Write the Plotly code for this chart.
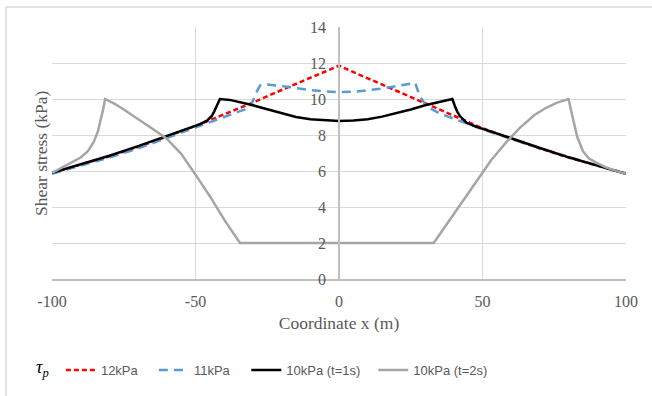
import plotly.graph_objects as go

# Shear stress along the coordinate x for each peak stress case
x_12 = [-100, -90, -80, -70, -60, -50, -40, -30, -20, -10, 0,
        10, 20, 30, 40, 50, 60, 70, 80, 90, 100]
tau_12 = [5.90, 6.35, 6.82, 7.33, 7.90, 8.50, 9.15, 9.80, 10.50, 11.17, 11.85,
          11.15, 10.45, 9.75, 9.05, 8.38, 7.80, 7.25, 6.75, 6.30, 5.85]

x_11 = [-100, -90, -80, -70, -60, -50, -40, -35, -32, -30.5, -29, -27.5, -25,
        -20, -15, -10, -5, 0, 5, 10, 15, 20, 24, 26.5, 28.2, 30.5, 35, 40,
        50, 60, 70, 80, 90, 100]
tau_11 = [5.85, 6.28, 6.75, 7.25, 7.82, 8.40, 9.00, 9.30, 9.45, 9.70, 10.30, 10.75, 10.80,
          10.72, 10.60, 10.50, 10.42, 10.38, 10.40, 10.47, 10.58, 10.72, 10.85, 10.90, 10.15, 9.60, 9.20, 8.90,
          8.32, 7.78, 7.26, 6.78, 6.32, 5.85]

x_10a = [-100, -90, -80, -70, -60, -50, -48.4, -46, -44.4, -43.5, -42.6, -41.5,
         -38, -35, -30, -25, -20, -15, -10, -5, 0, 5, 10, 15, 20, 25, 30, 35,
         39.5, 40.4, 41.2, 42.2, 44.5, 48, 50, 60, 70, 80, 90, 100]
tau_10a = [5.90, 6.38, 6.85, 7.38, 7.95, 8.52, 8.60, 8.80, 9.04, 9.30, 9.59, 10.00,
           9.95, 9.85, 9.65, 9.43, 9.20, 9.00, 8.88, 8.81, 8.78, 8.80, 8.88, 9.02, 9.20, 9.42, 9.65, 9.85,
           10.00, 9.60, 9.30, 9.04, 8.67, 8.45, 8.35, 7.82, 7.28, 6.76, 6.30, 5.85]

x_10b = [-100, -97, -94, -90, -87.5, -85.5, -84, -83, -82.2, -81.5,
         -78, -75, -70, -65, -60, -55, -50, -45, -40, -34.5,
         33, 38, 43, 48, 53, 58, 63, 68, 72, 76, 80,
         80.8, 81.7, 83, 85, 87, 89.8, 93, 97, 100]
tau_10b = [5.90, 6.15, 6.40, 6.75, 7.10, 7.60, 8.20, 8.80, 9.40, 10.00,
           9.72, 9.42, 8.90, 8.35, 7.80, 6.95, 5.80, 4.60, 3.30, 2.00,
           2.00, 3.15, 4.35, 5.45, 6.60, 7.55, 8.40, 9.10, 9.50, 9.80, 10.00,
           9.40, 8.85, 7.90, 7.10, 6.70, 6.45, 6.20, 5.98, 5.85]

x_ticks = [-100, -50, 0, 50, 100]
y_ticks = [0, 2, 4, 6, 8, 10, 12, 14]

# (name, x, y, colour, dash, legend id, legend x in paper units)
series = [
    ("12kPa", x_12, tau_12, "#ff0000", "5px,3px", "legend", 0.0155),
    ("11kPa", x_11, tau_11, "#5b9bd5", "9px,6px", "legend2", 0.1775),
    ("10kPa (t=1s)", x_10a, tau_10a, "#000000", "solid", "legend3", 0.3385),
    ("10kPa (t=2s)", x_10b, tau_10b, "#a5a5a5", "solid", "legend4", 0.5597),
]

serif = "Liberation Serif"
grid = "#d9d9d9"
axis_line = "#bfbfbf"
text_col = "#595959"

fig = go.Figure()
legends = {}
for name, xs, ys, color, dash, leg, lx in series:
    fig.add_trace(go.Scatter(
        x=xs, y=ys, name=name, mode="lines", legend=leg,
        line=dict(color=color, width=2.5, dash=dash),
    ))
    legends[leg] = dict(
        orientation="h", x=lx, xanchor="left", y=-0.356, yanchor="middle",
        font=dict(family="Liberation Sans", size=13, color=text_col),
        itemwidth=30, bgcolor="rgba(0,0,0,0)",
    )

fig.update_layout(
    width=652, height=396,
    margin=dict(l=52, r=26, t=27, b=116),
    paper_bgcolor="white", plot_bgcolor="white",
    showlegend=True,
    xaxis=dict(
        range=[-100, 100], tickvals=x_ticks, ticktext=[str(v) for v in x_ticks],
        showgrid=True, gridcolor=grid, gridwidth=1,
        showline=True, linecolor=axis_line, linewidth=1.5,
        zeroline=False, ticks="", ticklabelstandoff=7,
        tickfont=dict(family=serif, size=16, color=text_col),
        title=dict(text="Coordinate x (m)", standoff=8,
                   font=dict(family=serif, size=17.5, color=text_col)),
    ),
    yaxis=dict(
        range=[0, 14], tickvals=y_ticks, ticktext=[str(v) for v in y_ticks],
        anchor="free", position=0.5,
        showgrid=True, gridcolor=grid, gridwidth=1,
        showline=True, linecolor=axis_line, linewidth=1.5,
        zeroline=False, ticks="", ticklabelstandoff=9,
        tickfont=dict(family=serif, size=16, color=text_col),
    ),
    annotations=[
        dict(text="Shear stress (kPa)", xref="paper", yref="paper",
             x=-0.019, y=0.5, xanchor="center", yanchor="middle", textangle=-90,
             showarrow=False, font=dict(family=serif, size=17.5, color=text_col)),
        dict(text="<i>τ<sub>p</sub></i>", xref="paper", yref="paper",
             x=-0.017, y=-0.356, xanchor="center", yanchor="middle",
             showarrow=False, font=dict(family=serif, size=18, color="#000000")),
    ],
    shapes=[
        dict(type="line", xref="paper", yref="paper", x0=-0.0801, x1=1.2,
             y0=1.079, y1=1.079, line=dict(color=grid, width=1.5)),
        dict(type="line", xref="paper", yref="paper", x0=-0.0801, x1=-0.0801,
             y0=-0.6, y1=1.079, line=dict(color=grid, width=1.5)),
    ],
    **legends,
)

fig.write_html("out.html")
